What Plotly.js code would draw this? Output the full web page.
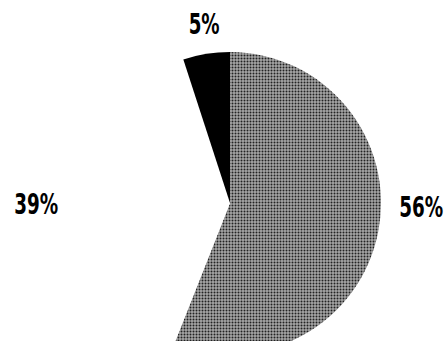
<!DOCTYPE html>
<html>
<head>
<meta charset="utf-8">
<script src="https://cdn.plot.ly/plotly-3.0.1.min.js"></script>
<style>
  html, body { margin: 0; padding: 0; background: #fff; overflow: hidden; width: 446px; height: 341px; }
  #chart { width: 446px; height: 380px; }
</style>
</head>
<body>
<div id="chart"></div>
<script>
// Data
const categories = ["A", "B", "C"];
const values = [56, 39, 5];
const labelTexts = values.map(v => v + "%");

// Page geometry
const W = 446, H = 380;
const cx = 230, cy = 203, R = 151;
const px = x => x / W;
const py = y => 1 - y / H;

const labelPos = [[421, 207], [36, 204], [204, 24]];
const labelWidth = [44, 44, 31];

const trace = {
  type: "pie",
  labels: categories,
  values: values,
  sort: false,
  direction: "clockwise",
  rotation: 0,
  textinfo: "none",
  hoverinfo: "none",
  showlegend: false,
  domain: { x: [px(cx - R), px(cx + R)], y: [py(cy + R), py(cy - R)] },
  marker: {
    colors: ["#858585", "#ffffff", "#000000"],
    line: { width: 0 },
    pattern: {
      shape: [".", "", ""],
      fgcolor: "#222222",
      bgcolor: "#a6a6a6",
      size: 3,
      solidity: 0.35
    }
  }
};

const annotations = labelTexts.map((t, i) => ({
  text: t,
  xref: "paper", yref: "paper",
  x: px(labelPos[i][0]), y: py(labelPos[i][1]),
  xanchor: "center", yanchor: "middle",
  showarrow: false,
  font: { family: "'DejaVu Sans Condensed', 'DejaVu Sans', sans-serif", size: 29, color: "#000", weight: "bold" }
}));

const layout = {
  width: W, height: H,
  margin: { l: 0, r: 0, t: 0, b: 0 },
  paper_bgcolor: "#ffffff",
  plot_bgcolor: "#ffffff",
  annotations: annotations
};

Plotly.newPlot("chart", [trace], layout, { staticPlot: true, displayModeBar: false }).then(gd => {
  // squeeze the label text horizontally to mimic a condensed bold face
  const texts = gd.querySelectorAll("g.annotation text.annotation-text");
  texts.forEach((el, i) => {
    const bb = el.getBBox();
    const c = bb.x + bb.width / 2;
    const s = labelWidth[i] / bb.width;
    const prev = el.getAttribute("transform") || "";
    el.setAttribute("transform", prev + ` translate(${c},0) scale(${s},1) translate(${-c},0)`);
  });
});
</script>
</body>
</html>
